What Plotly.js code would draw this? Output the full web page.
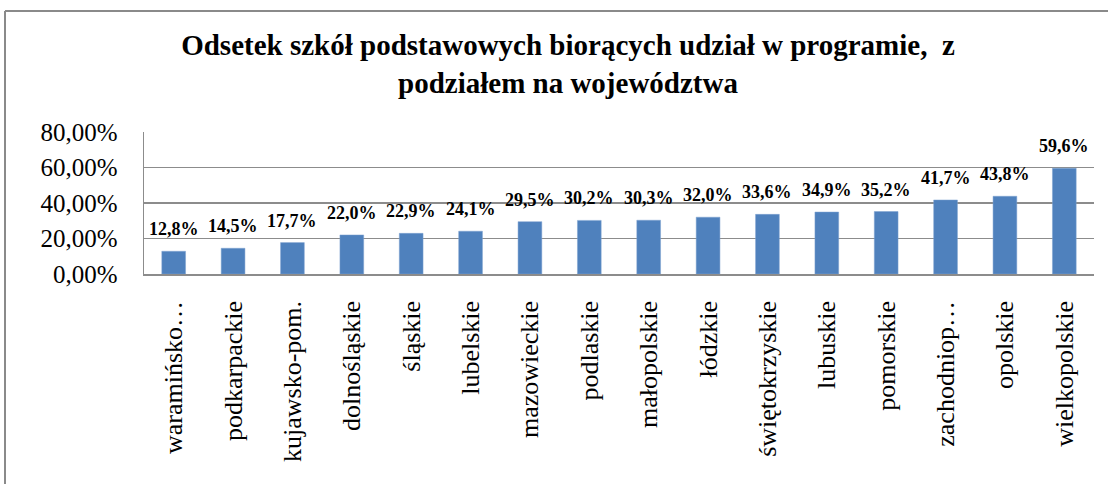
<!DOCTYPE html>
<html>
<head>
<meta charset="utf-8">
<script src="https://cdn.plot.ly/plotly-3.0.1.min.js"></script>
<style>
html,body{margin:0;padding:0;background:#fff;}
#chart{width:1108px;height:484px;}
</style>
</head>
<body>
<div id="chart"></div>
<script>
const categories = ["waramińsko…","podkarpackie","kujawsko-pom.","dolnośląskie","śląskie","lubelskie","mazowieckie","podlaskie","małopolskie","łódzkie","świętokrzyskie","lubuskie","pomorskie","zachodniop…","opolskie","wielkopolskie"];
const shares = [0.128,0.145,0.177,0.220,0.229,0.241,0.295,0.302,0.303,0.320,0.336,0.349,0.352,0.417,0.438,0.596];
const yTicks = [0,0.2,0.4,0.6,0.8];
const titleText = "Odsetek szkół podstawowych biorących udział w programie,  z<br>podziałem na województwa";

const W = 1108, H = 484;
const m = {l:144, r:14, t:132, b:210};
const pw = W - m.l - m.r, ph = H - m.t - m.b;
const px = x => (x - m.l) / pw;
const py = y => (H - m.b - y) / ph;

const font = "Liberation Serif, Times New Roman, serif";
const fmt = v => (v * 100).toFixed(1).replace(".", ",") + "%";

const trace = {
  type: "bar",
  x: categories,
  y: shares,
  marker: {color: "#4F81BD", line: {color: "#7FA2D0", width: 0.5}},
  hoverinfo: "none"
};

const labels = categories.map((c, i) => ({
  x: c, y: shares[i], xref: "x", yref: "y",
  text: "<b>" + fmt(shares[i]) + "</b>",
  showarrow: false, yanchor: "bottom", xanchor: "center", yshift: 10,
  font: {family: font, size: 18, color: "#000"}
}));

const layout = {
  width: W, height: H,
  margin: m,
  paper_bgcolor: "#fff",
  plot_bgcolor: "#fff",
  separators: ", ",
  showlegend: false,
  bargap: 0.6,
  font: {family: font, color: "#000"},
  title: {
    text: "<b>" + titleText + "</b>",
    font: {family: font, size: 29, color: "#000"},
    x: px(568), xref: "paper", xanchor: "center",
    y: 1 - 55/H, yref: "container", yanchor: "middle"
  },
  xaxis: {
    type: "category",
    tickangle: -90,
    tickfont: {family: font, size: 26, color: "#000"},
    ticklabelstandoff: 15,
    showline: true, linecolor: "#8c8c8c", linewidth: 1.5,
    ticks: "", showgrid: false, automargin: false
  },
  yaxis: {
    range: [0, 0.8],
    tickvals: yTicks,
    tickformat: ".2%",
    tickfont: {family: font, size: 25, color: "#000"},
    ticklabelstandoff: 20,
    showgrid: true, gridcolor: "#8c8c8c", gridwidth: 1.2,
    showline: true, linecolor: "#8c8c8c", linewidth: 1.5,
    zeroline: false, ticks: "",
    automargin: false
  },
  annotations: labels,
  shapes: [
    {type: "line", xref: "paper", yref: "paper",
     x0: px(5), x1: px(5), y0: py(11), y1: py(H + 5),
     line: {color: "#8a8a8a", width: 2}},
    {type: "line", xref: "paper", yref: "paper",
     x0: px(5), x1: px(W + 5), y0: py(11), y1: py(11),
     line: {color: "#8a8a8a", width: 2}}
  ]
};

Plotly.newPlot("chart", [trace], layout, {staticPlot: true, displayModeBar: false});
</script>
</body>
</html>
